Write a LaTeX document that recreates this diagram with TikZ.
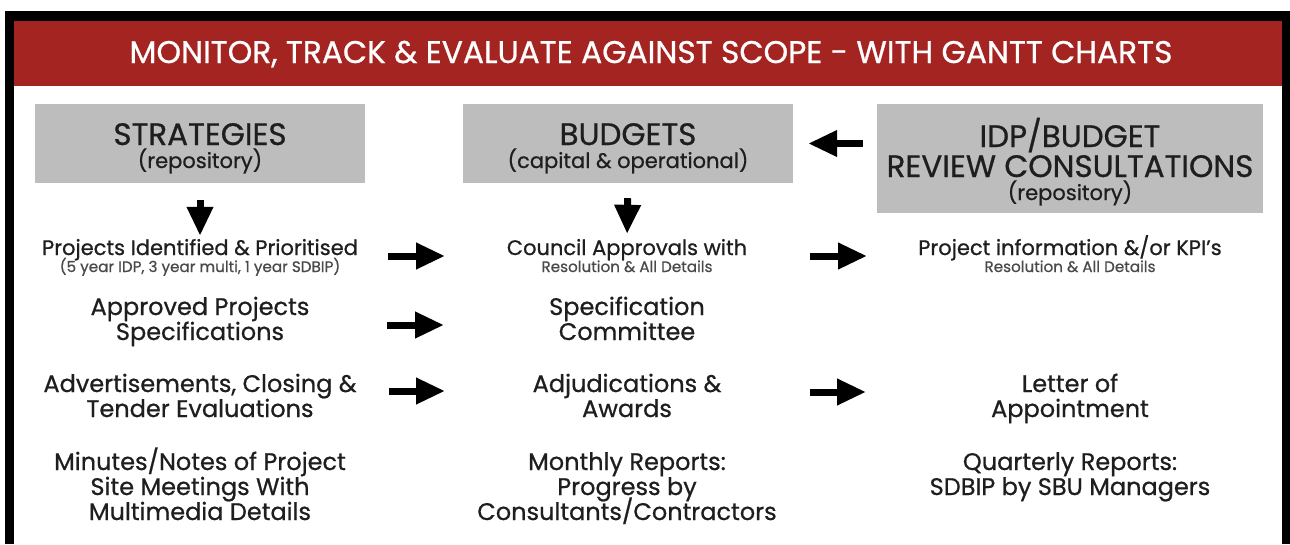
\documentclass[tikz,border=0pt]{standalone}
\usepackage{fontspec}
\setmainfont{Poppins}[FakeBold = 0.7]
\usepackage{xcolor}
\usetikzlibrary{arrows.meta}

\definecolor{banner red}{HTML}{A32420}
\definecolor{box grey}{HTML}{BDBDBD}
\definecolor{ink}{HTML}{1E1E1E}
\definecolor{note ink}{HTML}{4A4A4A}

\tikzset{
	head box/.style = {fill = box grey, inner sep = 0pt},
	heading/.style = {text = ink, anchor = base, inner sep = 0pt, font = \fontsize{31}{34}\selectfont},
	sub heading/.style = {text = ink, anchor = base, inner sep = 0pt, font = \fontsize{21}{24}\selectfont},
	item/.style = {text = ink, anchor = base, align = center, inner sep = 0pt, font = {\fontsize{24}{25}\selectfont\lineskiplimit = -20pt}},
	first item/.style = {item, font = \fontsize{21}{24}\selectfont},
	note/.style = {text = note ink, anchor = base, inner sep = 0pt, font = \fontsize{15.2}{18}\selectfont},
	arrow/.style = {line width = 7pt, -{Triangle[length = 29pt, width = 25pt]}},
}

\begin{document}
\begin{tikzpicture}[x = 1pt, y = -1pt]
		\useasboundingbox (0, 0) rectangle (1290, 544);
		
		\fill [black] (5, 11) rectangle (1290, 544);
		\fill [white] (14, 21) rectangle (1282, 544);
		\fill [banner red] (14, 21) rectangle (1282, 86);
		
		\node (title) [anchor = base, text = white, inner sep = 0pt, font = \fontsize{31.3}{34}\selectfont] at (651, 63) {MONITOR, TRACK \& EVALUATE AGAINST SCOPE - WITH GANTT CHARTS};
		
		\node (strat) [head box, minimum width = 330pt, minimum height = 79pt] at (200, 143.5) {};
		\node (budgets) [head box, minimum width = 330pt, minimum height = 79pt] at (628, 143.5) {};
		\node (idp) [head box, minimum width = 386pt, minimum height = 109pt] at (1070, 158.5) {};
		
		\node (strat name) [heading] at (200, 145) {STRATEGIES};
		\node (strat sub) [sub heading] at (200, 168) {(repository)};
		\node (budgets name) [heading] at (628, 145) {BUDGETS};
		\node (budgets sub) [sub heading] at (628, 168) {(capital \& operational)};
		\node (idp name) [heading] at (1070, 147) {IDP/BUDGET};
		\node (idp name two) [heading] at (1070, 177) {REVIEW CONSULTATIONS};
		\node (idp sub) [sub heading] at (1070, 200) {(repository)};
		
		\node (proj) [first item] at (200, 255) {Projects Identified \& Prioritised};
		\node (proj note) [note] at (200, 272) {(5 year IDP, 3 year multi, 1 year SDBIP)};
		\node (council) [first item] at (627, 255) {Council Approvals with};
		\node (council note) [note] at (627, 272) {Resolution \& All Details};
		\node (kpi) [first item] at (1070, 255) {Project information \&/or KPI’s};
		\node (kpi note) [note] at (1070, 272) {Resolution \& All Details};
		
		\node (approved) [item] at (200, 340) {Approved Projects\\Specifications};
		\node (committee) [item] at (627, 340) {Specification\\Committee};
		
		\node (adverts) [item] at (200, 417) {Advertisements, Closing \&\\Tender Evaluations};
		\node (awards) [item] at (627, 417) {Adjudications \&\\Awards};
		\node (letter) [item] at (1070, 417) {Letter of\\Appointment};
		
		\node (minutes) [item] at (200, 520) {Minutes/Notes of Project\\Site Meetings With\\Multimedia Details};
		\node (monthly) [item] at (627, 520) {Monthly Reports:\\Progress by\\Consultants/Contractors};
		\node (quarterly) [item] at (1070, 495) {Quarterly Reports:\\SDBIP by SBU Managers};
		
		\coordinate (proj out) at (388, 256);
		\coordinate (council in) at (445, 256);
		\coordinate (council out) at (810, 256);
		\coordinate (kpi in) at (867, 256);
		\coordinate (approved out) at (387, 325);
		\coordinate (committee in) at (444, 325);
		\coordinate (adverts out) at (389, 391);
		\coordinate (awards in) at (445, 391);
		\coordinate (awards out) at (810, 392);
		\coordinate (letter in) at (866, 392);
		
		\draw [arrow, shorten <= 17pt, shorten >= 3pt] (strat.south) -- (proj.north);
		\draw [arrow, shorten <= 15pt, shorten >= 5pt] (budgets.south) -- (council.north);
		\draw [arrow, shorten <= 14pt, shorten >= 15pt] (idp.west |- budgets.east) -- (budgets.east);
		
		\draw [arrow] (proj out) -- (council in);
		\draw [arrow] (council out) -- (kpi in);
		\draw [arrow] (approved out) -- (committee in);
		\draw [arrow] (adverts out) -- (awards in);
		\draw [arrow] (awards out) -- (letter in);
	\end{tikzpicture}
\end{document}
